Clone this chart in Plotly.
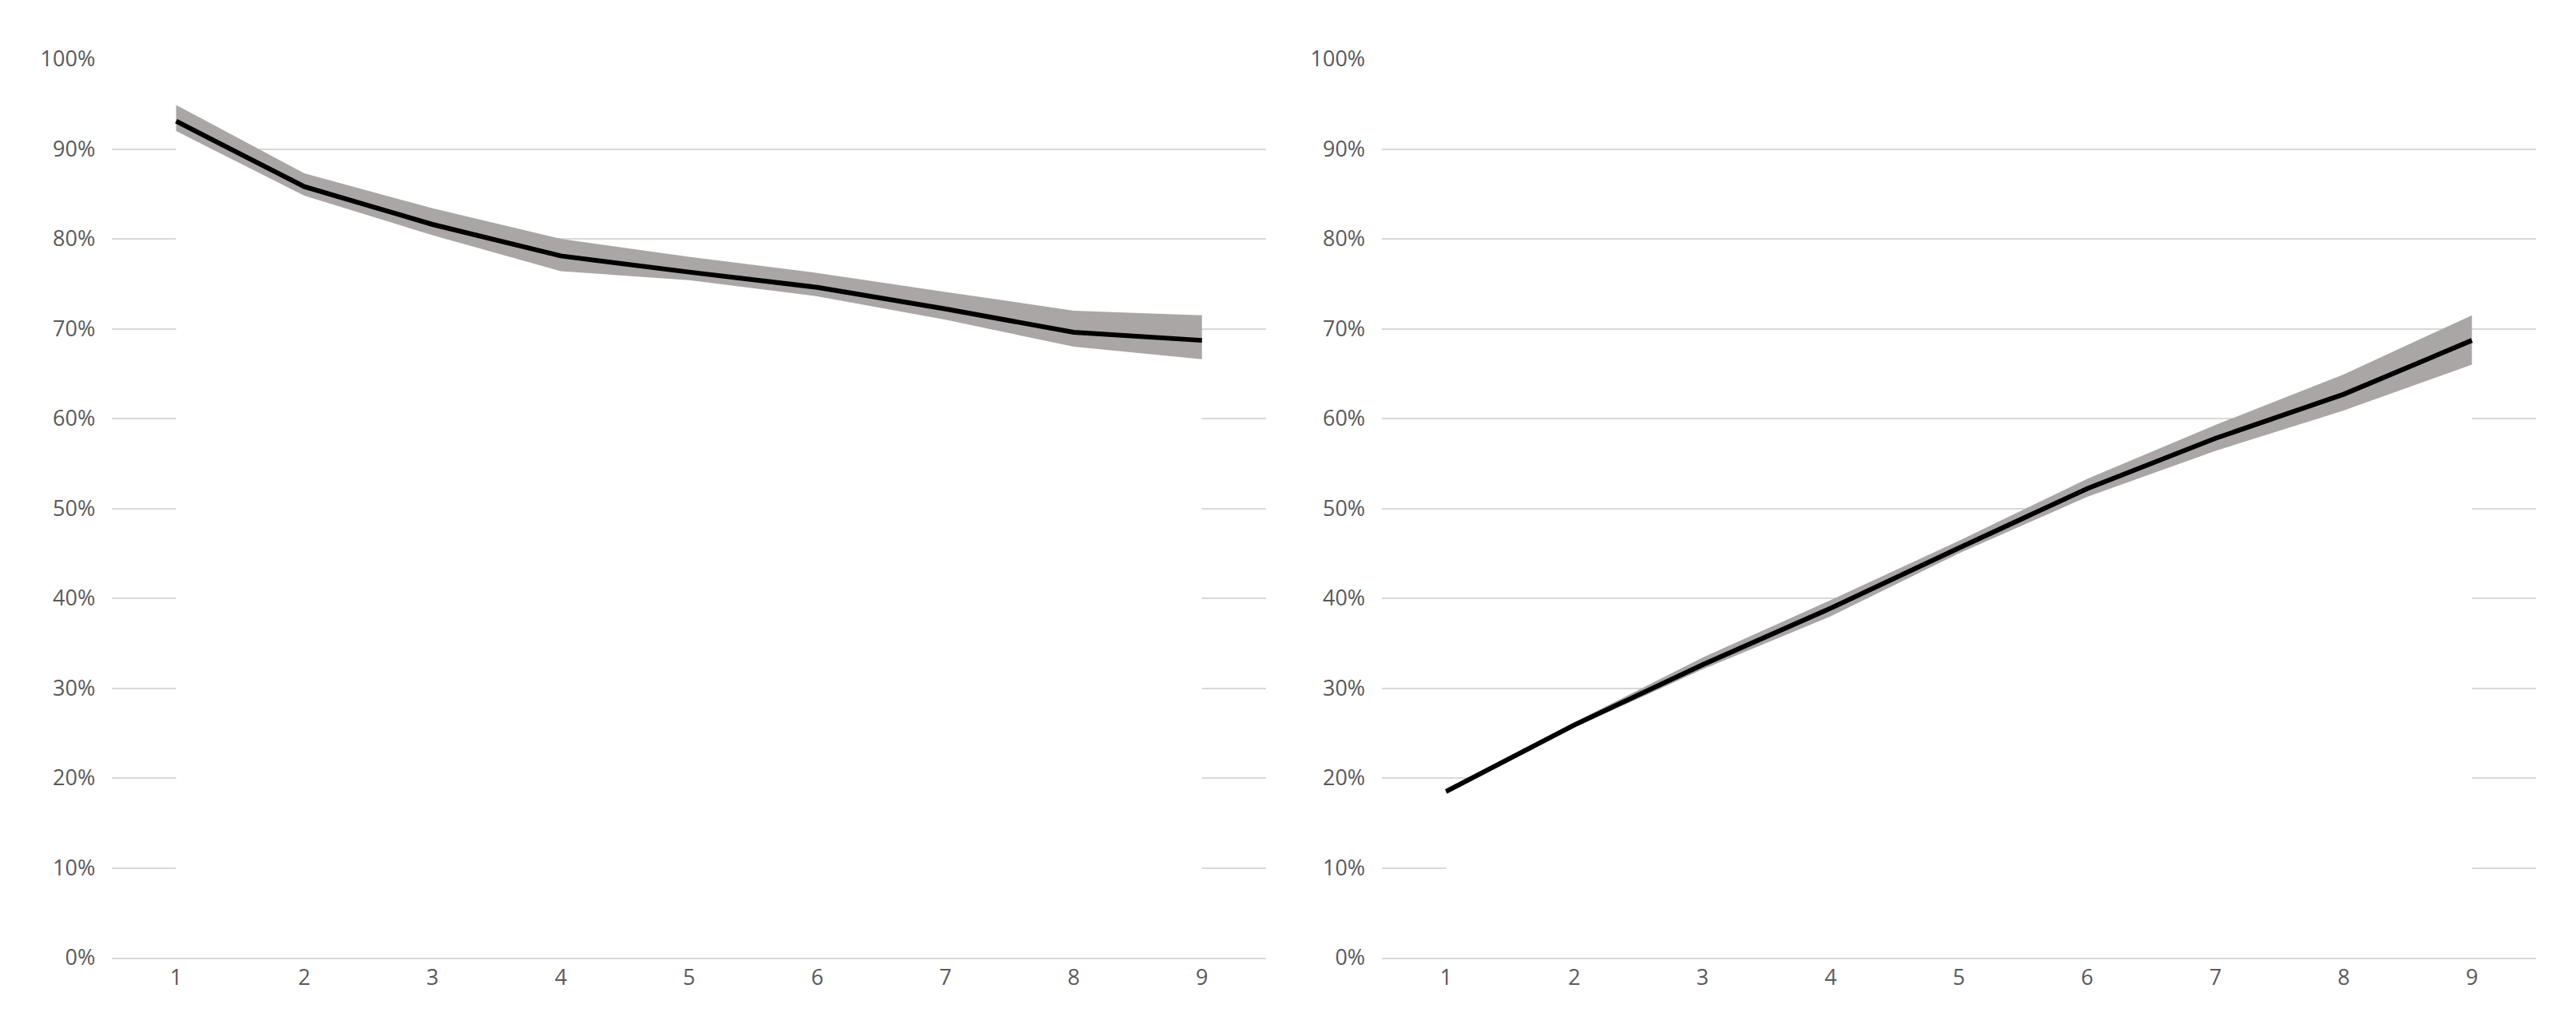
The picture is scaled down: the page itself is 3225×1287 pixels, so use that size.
import plotly.graph_objects as go
from plotly.subplots import make_subplots

steps = [1, 2, 3, 4, 5, 6, 7, 8, 9]

# left panel (share, %)
left_mid = [93.1, 85.8, 81.6, 78.1, 76.3, 74.6, 72.2, 69.6, 68.7]
left_lo = [92.0, 84.8, 80.4, 76.4, 75.4, 73.6, 71.0, 68.0, 66.6]
left_hi = [94.9, 87.3, 83.4, 80.0, 78.0, 76.2, 74.1, 72.0, 71.5]

# right panel (share, %)
right_mid = [18.5, 25.9, 32.6, 38.9, 45.6, 52.2, 57.8, 62.7, 68.7]
right_lo = [18.2, 25.6, 32.1, 38.0, 45.0, 51.3, 56.4, 60.9, 66.0]
right_hi = [18.8, 26.2, 33.4, 39.8, 46.4, 53.3, 59.3, 64.9, 71.5]

tick_vals = [0, 10, 20, 30, 40, 50, 60, 70, 80, 90, 100]
tick_text = [f"{v}%" for v in tick_vals]

fig = make_subplots(rows=1, cols=2, horizontal_spacing=0.045)

for col, (mid, lo, hi) in enumerate([(left_mid, left_lo, left_hi),
                                     (right_mid, right_lo, right_hi)], start=1):
    fig.add_trace(go.Scatter(x=steps, y=lo, mode='lines', line=dict(width=0),
                             fill='tozeroy', fillcolor='white', hoverinfo='skip'),
                  row=1, col=col)
    fig.add_trace(go.Scatter(x=steps, y=hi, mode='lines', line=dict(width=0),
                             fill='tonexty', fillcolor='#aaa6a6', hoverinfo='skip'),
                  row=1, col=col)
    fig.add_trace(go.Scatter(x=steps, y=mid, mode='lines',
                             line=dict(color='black', width=6)),
                  row=1, col=col)

fig.update_xaxes(range=[0.5, 9.5], tickvals=steps, showgrid=False, zeroline=False,
                 showline=True, linecolor='#d9d9d9', linewidth=2,
                 tickfont=dict(size=27, color='#595959'), ticks='')
fig.update_yaxes(range=[0, 100], tickvals=tick_vals, ticktext=tick_text,
                 showgrid=True, gridcolor='#d9d9d9', gridwidth=2, zeroline=False,
                 tickfont=dict(size=27, color='#595959'), ticklabelstandoff=20)

fig.update_xaxes(domain=[0.041, 0.489], row=1, col=1)
fig.update_xaxes(domain=[0.534, 0.982], row=1, col=2)

fig.update_layout(
    width=3225, height=1287,
    margin=dict(l=0, r=0, t=66, b=96),
    showlegend=False,
    paper_bgcolor='white',
    plot_bgcolor='white',
    font=dict(family='Open Sans'),
)
fig.write_html("out.html")
